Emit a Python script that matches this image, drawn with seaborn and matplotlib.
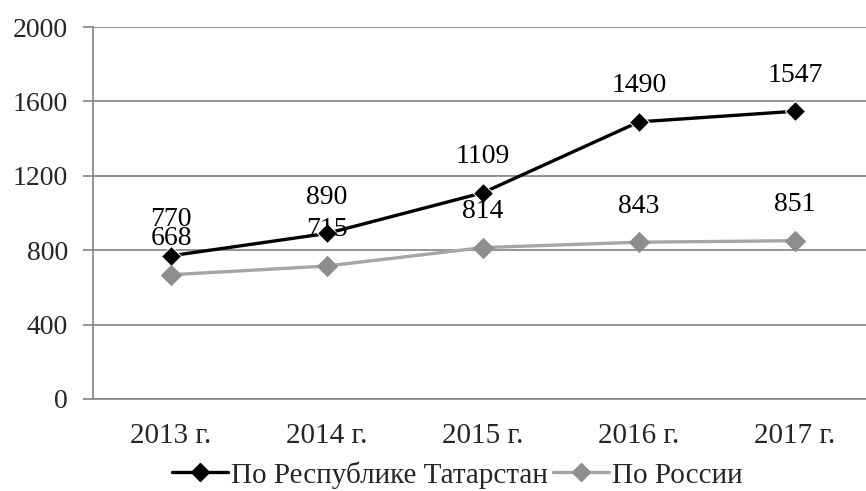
import pandas as pd
import matplotlib.pyplot as plt
import seaborn as sns

# data
years = ["2013 г.", "2014 г.", "2015 г.", "2016 г.", "2017 г."]
tatarstan = [770, 890, 1109, 1490, 1547]
russia = [668, 715, 814, 843, 851]
series_names = ["По Республике Татарстан", "По России"]

sns.set_style("white")
plt.rcParams['font.family'] = ['Liberation Serif', 'DejaVu Serif']

df = pd.DataFrame({
    "year": years * 2,
    "value": tatarstan + russia,
    "series": [series_names[0]] * 5 + [series_names[1]] * 5,
})

fig = plt.figure(figsize=(8.66, 4.91), dpi=100)
ax = fig.add_axes([0.1074, 0.1874, 0.9006, 0.7576])

grid_col = "#8c8c8c"
for v in range(0, 2001, 400):
    ax.axhline(v, color=grid_col, lw=1.3, zorder=0)

sns.lineplot(data=df, x="year", y="value", hue="series", style="series",
             palette=["black", "#a6a6a6"], markers=["D", "D"], dashes=False,
             markersize=10, linewidth=2.4, ax=ax, legend=False, zorder=3)
# grey markers a little darker than the grey line
ax.lines[-1].set_markerfacecolor("#8e8e8e")
ax.lines[-1].set_markeredgecolor("#8e8e8e")

# value labels; 770/668 touch in the original too
for vals in (tatarstan, russia):
    for i, v in enumerate(vals):
        ax.annotate(str(v), (i, v), xytext=(0, 26), textcoords="offset points",
                    ha="center", va="center", fontsize=20, color="black")

ax.set_ylim(0, 2000)
ax.set_xlim(-0.5, 4.5)
ax.set_yticks(range(0, 2001, 400))
ax.set_xticks(range(5))
ax.set_xticklabels(years)
ax.set_xticks([x - 0.5 for x in range(6)], minor=True)
ax.tick_params(axis="x", which="major", length=0, pad=17, labelsize=21)
ax.tick_params(axis="x", which="minor", length=7, width=1.3, color=grid_col)
ax.tick_params(axis="y", length=7, width=1.3, color=grid_col, labelsize=20, pad=11,
               direction="out", left=True)
ax.set_xlabel("")
ax.set_ylabel("")

for s in ["top", "right"]:
    ax.spines[s].set_visible(False)
for s in ["left", "bottom"]:
    ax.spines[s].set_color(grid_col)
    ax.spines[s].set_linewidth(1.3)

handles = [
    plt.Line2D([], [], color="black", marker="D", markersize=9, lw=2.4),
    plt.Line2D([], [], color="#a6a6a6", marker="D", markersize=9, lw=2.4,
               markerfacecolor="#8e8e8e", markeredgecolor="#8e8e8e"),
]
fig.legend(handles, series_names, loc="center", bbox_to_anchor=(0.528, 0.033),
           ncol=2, frameon=False, fontsize=21, handlelength=1.9,
           handletextpad=0.1, columnspacing=0.2, borderpad=0)

fig.savefig("out.png", dpi=100)
